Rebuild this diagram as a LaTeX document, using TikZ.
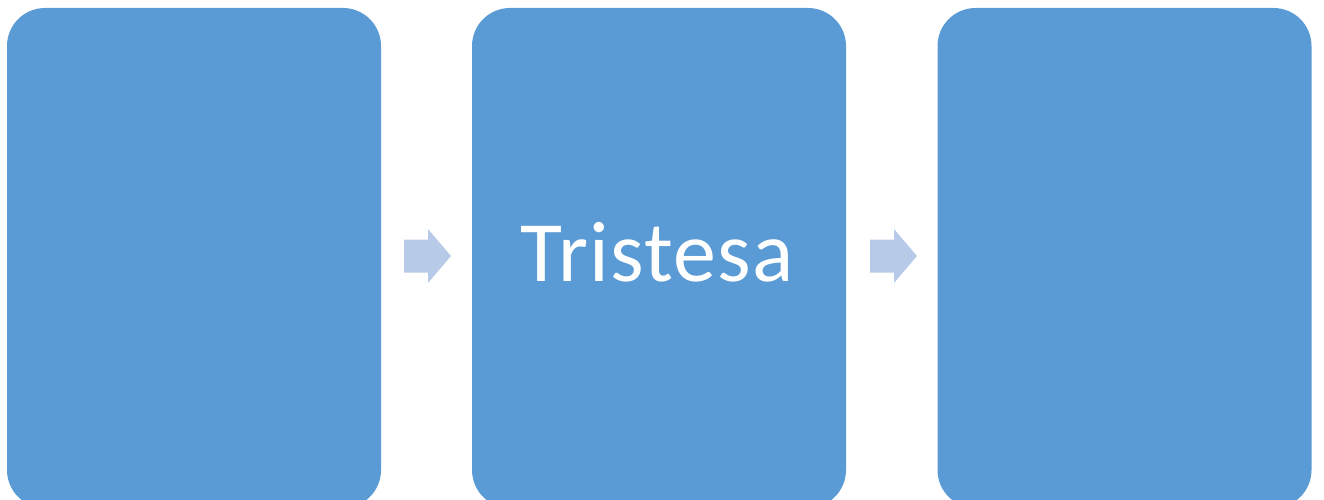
\documentclass[tikz,border=0pt]{standalone}
\usepackage{fontspec}
\setmainfont{Carlito}
\definecolor{boxblue}{HTML}{5B9BD5}
\definecolor{arrowblue}{HTML}{B7CBE8}
\begin{document}
\begin{tikzpicture}[x=1pt,y=-1pt,
  stage/.style={fill=boxblue, draw=none, rounded corners=38pt,
    minimum width=374pt, minimum height=500pt, inner sep=0pt},
  flowarrow/.style={fill=arrowblue, draw=none}]
\useasboundingbox (0,0) rectangle (1324,500);
\clip (0,0) rectangle (1324,500);
% three process stages
\node[stage] (s1) at (194,258) {};
\node[stage] (s2) at (659,258) {};
\node[stage] (s3) at (1124.5,258) {};
\node[anchor=base, text=white, inner sep=0pt,
  font=\fontsize{86}{86}\selectfont\addfontfeature{LetterSpace=1.5}] (lbl) at (657,281) {Tristesa};
% block arrows between the stages
\coordinate (a1) at (404,256);
\coordinate (a2) at (870,256);
\foreach \a in {a1,a2}{
  \fill[flowarrow] (\a) ++(0,-16.5) -- ++(24,0) -- ++(0,-10.5) -- ++(23,27)
    -- ++(-23,27) -- ++(0,-10.5) -- ++(-24,0) -- cycle;
}
\end{tikzpicture}
\end{document}
